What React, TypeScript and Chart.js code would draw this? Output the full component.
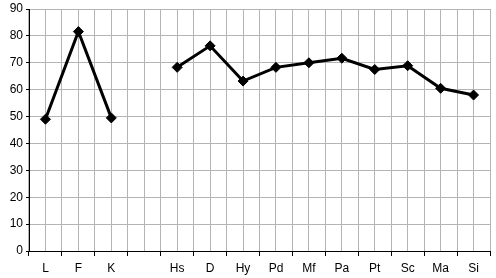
import React, { useEffect, useRef } from "react";
import { Chart, registerables } from "chart.js";

Chart.register(...registerables);

const categories = ["L", "F", "K", "", "Hs", "D", "Hy", "Pd", "Mf", "Pa", "Pt", "Sc", "Ma", "Si"];
const values: (number | null)[] = [49, 81.6, 49.5, null, 68.3, 76.3, 63.2, 68.3, 70, 71.7, 67.5, 68.9, 60.5, 58];
const yTicks = { min: 0, max: 90, step: 10 };

export default function App() {
  const ref = useRef<HTMLCanvasElement | null>(null);
  useEffect(() => {
    document.body.style.margin = "0";
    const ctx = ref.current!;
    const chart = new Chart(ctx, {
      type: "line",
      data: {
        labels: categories,
        datasets: [
          {
            data: values,
            borderColor: "#000",
            backgroundColor: "#000",
            borderWidth: 3,
            pointStyle: "rectRot",
            pointRadius: 5,
            pointBorderWidth: 1,
            spanGaps: false,
            tension: 0,
          },
        ],
      },
      options: {
        animation: false,
        responsive: false,
        maintainAspectRatio: false,
        layout: { padding: { top: 8, right: 4, left: 0, bottom: 0 } },
        plugins: { legend: { display: false }, tooltip: { enabled: false } },
        scales: {
          x: {
            type: "category",
            offset: true,
            grid: { offset: true, color: "#b4b4b4", tickColor: "#000", tickLength: 5, lineWidth: 1 },
            border: { color: "#000", width: 1 },
            ticks: { color: "#000", font: { family: "Liberation Sans, Arial", size: 12 }, padding: 5, autoSkip: false, maxRotation: 0 },
            afterFit: (s: any) => { s.height = 27; },
          },
          x2: {
            type: "category",
            position: "bottom",
            offset: true,
            grid: { offset: false, color: "#b4b4b4", drawTicks: false, lineWidth: 1 },
            border: { display: false },
            ticks: { display: false },
            afterFit: (s: any) => { s.height = 0; },
          },
          y: {
            min: yTicks.min,
            max: yTicks.max,
            ticks: { stepSize: yTicks.step, color: "#000", font: { family: "Liberation Sans, Arial", size: 12, lineHeight: 1 }, padding: 3 },
            grid: { color: "#b4b4b4", tickColor: "#000", tickLength: 3 },
            border: { color: "#000", width: 1 },
            afterFit: (s: any) => { s.width = 29; },
          },
        },
      },
    } as any);
    return () => chart.destroy();
  }, []);
  return (
    <div style={{ width: 496, height: 278 }}>
      <canvas ref={ref} width={496} height={278} style={{ display: "block" }} />
    </div>
  );
}
